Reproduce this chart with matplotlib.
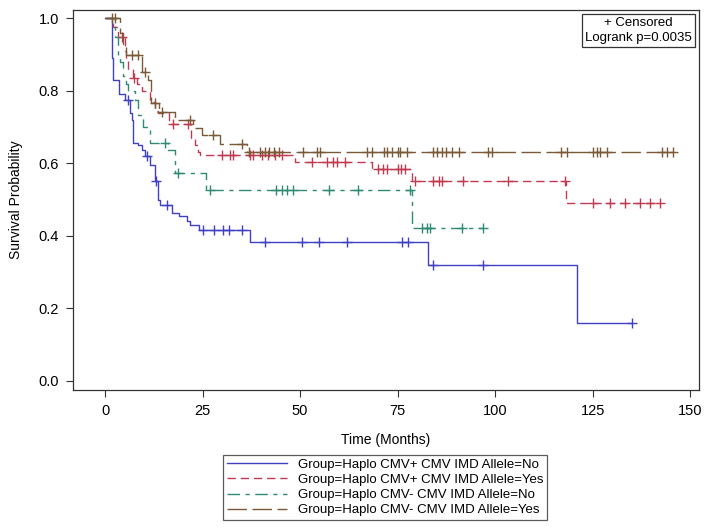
import matplotlib
matplotlib.use("Agg")
import matplotlib.pyplot as plt
import numpy as np

plt.rcParams["font.family"] = ["Liberation Sans", "DejaVu Sans"]

BLUE = "#4040c4"
RED = "#c23a52"
TEAL = "#2e8a72"
BROWN = "#7a5a36"

# Kaplan-Meier steps (time in months, survival) and censor times
blue_t = [0, 1.7, 2.1, 3.6, 5.1, 6.4, 6.8, 7.2, 8.5, 9.4, 10.3, 11.5, 12.8, 13.6, 14.2,
          17.2, 19.0, 20.9, 21.8, 24.0, 37.2, 82.7, 121.0]
blue_s = [1.0, 0.89, 0.83, 0.79, 0.775, 0.74, 0.72, 0.656, 0.65, 0.637, 0.62, 0.595, 0.55,
          0.50, 0.485, 0.463, 0.455, 0.44, 0.43, 0.416, 0.384, 0.32, 0.16]
blue_c = [5.9, 10.7, 13.2, 16.0, 25.0, 28.0, 30.2, 31.9, 35.2, 41.0, 50.4, 54.9, 62.0,
          76.1, 77.6, 84.0, 97.0, 135.0]

red_t = [0, 2.0, 3.4, 5.0, 5.5, 6.0, 7.2, 8.1, 9.4, 11.5, 12.8, 13.5, 16.5, 22.0, 23.0,
         23.8, 24.4, 48.7, 68.4, 78.6, 118.2]
red_s = [1.0, 0.976, 0.95, 0.91, 0.89, 0.86, 0.835, 0.82, 0.80, 0.77, 0.745, 0.74, 0.708,
         0.67, 0.65, 0.63, 0.623, 0.605, 0.584, 0.55, 0.49]
red_c = [4.3, 7.4, 17.5, 21.3, 29.9, 32.0, 32.9, 37.2, 38.0, 40.2, 41.9, 43.6, 45.3, 53.0,
         56.8, 58.5, 59.4, 61.5, 70.0, 71.3, 72.2, 75.2, 76.0, 76.9, 79.5, 84.2, 85.5, 86.3,
         91.9, 103.4, 118.0, 125.0, 129.5, 133.3, 137.2, 139.7, 142.3]

teal_t = [0, 2.5, 3.4, 3.8, 4.7, 5.5, 6.0, 7.7, 8.5, 9.8, 11.5, 16.2, 18.0, 26.0, 78.8]
teal_s = [1.0, 0.95, 0.90, 0.88, 0.84, 0.82, 0.80, 0.775, 0.733, 0.70, 0.655, 0.637, 0.572,
          0.527, 0.422]
teal_c = [15.4, 18.8, 26.9, 43.8, 45.3, 46.6, 48.3, 57.3, 64.8, 78.2, 81.2, 82.5, 83.3,
          91.5, 97.0]

brown_t = [0, 3.8, 4.6, 5.5, 9.4, 11.0, 11.9, 13.8, 18.0, 22.5, 24.8, 29.5, 36.3]
brown_s = [1.0, 0.96, 0.93, 0.90, 0.853, 0.83, 0.766, 0.742, 0.72, 0.697, 0.678, 0.653, 0.632]
brown_c = [1.7, 2.6, 6.8, 8.5, 10.3, 12.8, 14.5, 21.8, 27.8, 35.0, 36.9, 39.7, 41.0, 42.0,
           43.4, 44.6, 50.8, 54.3, 55.1, 67.1, 68.4, 71.5, 72.3, 73.7, 75.0, 75.7, 77.4,
           84.0, 85.0, 86.4, 87.3, 88.9, 90.7, 98.3, 99.1, 117.0, 118.5, 125.2, 126.1,
           127.0, 128.7, 142.8, 144.2, 145.6]

labels = ["Group=Haplo CMV+ CMV IMD Allele=No",
          "Group=Haplo CMV+ CMV IMD Allele=Yes",
          "Group=Haplo CMV- CMV IMD Allele=No",
          "Group=Haplo CMV- CMV IMD Allele=Yes"]

groups = [
    (blue_t, blue_s, blue_c, BLUE, "-"),
    (red_t, red_s, red_c, RED, (0, (6, 3.5))),
    (teal_t, teal_s, teal_c, TEAL, (0, (9, 4, 3, 4))),
    (brown_t, brown_s, brown_c, BROWN, (0, (14, 4))),
]

fig = plt.figure(figsize=(7.09, 5.31), dpi=100)
ax = fig.add_axes([0.103, 0.266, 0.883, 0.715])

for (t, s, c, color, ls), lab in zip(groups, labels):
    t = np.array(t)
    s = np.array(s)
    c = np.array(c)
    end = max(t[-1], c.max())
    tt = np.append(t, end)
    ss = np.append(s, s[-1])
    ax.step(tt, ss, where="post", color=color, linestyle=ls, lw=1.0, label=lab)
    idx = np.searchsorted(t, c, side="right") - 1
    ax.plot(c, s[idx], linestyle="none", marker="+", color=color, markersize=6.5, mew=1.0)

ax.set_xlim(-8.2, 152.3)
ax.set_ylim(-0.025, 1.023)
ax.set_xticks([0, 25, 50, 75, 100, 125, 150])
ax.set_yticks([0.0, 0.2, 0.4, 0.6, 0.8, 1.0])
ax.set_yticklabels([f"{v:.1f}" for v in [0.0, 0.2, 0.4, 0.6, 0.8, 1.0]])
ax.tick_params(direction="out", length=5, width=0.8, labelsize=10.5, color="#333333", pad=5)
for sp in ax.spines.values():
    sp.set_color("#333333")
    sp.set_linewidth(0.9)
ax.set_xlabel("Time (Months)", fontsize=10, labelpad=11)
ax.set_ylabel("Survival Probability", fontsize=10, labelpad=11)

ax.text(0.988, 0.982, "+ Censored\nLogrank p=0.0035", transform=ax.transAxes,
        ha="right", va="top", multialignment="center", fontsize=9.5, linespacing=1.3,
        bbox=dict(boxstyle="square,pad=0.25", fc="white", ec="#333333", lw=0.9))

leg = fig.legend(loc="upper center", bbox_to_anchor=(0.543, 0.156), fontsize=9.5,
                 frameon=True, fancybox=False, edgecolor="#333333", handlelength=4.6,
                 labelspacing=0.22, borderpad=0.3, handletextpad=0.8)
leg.get_frame().set_linewidth(0.9)

fig.savefig("out.png", dpi=100, facecolor="white")
